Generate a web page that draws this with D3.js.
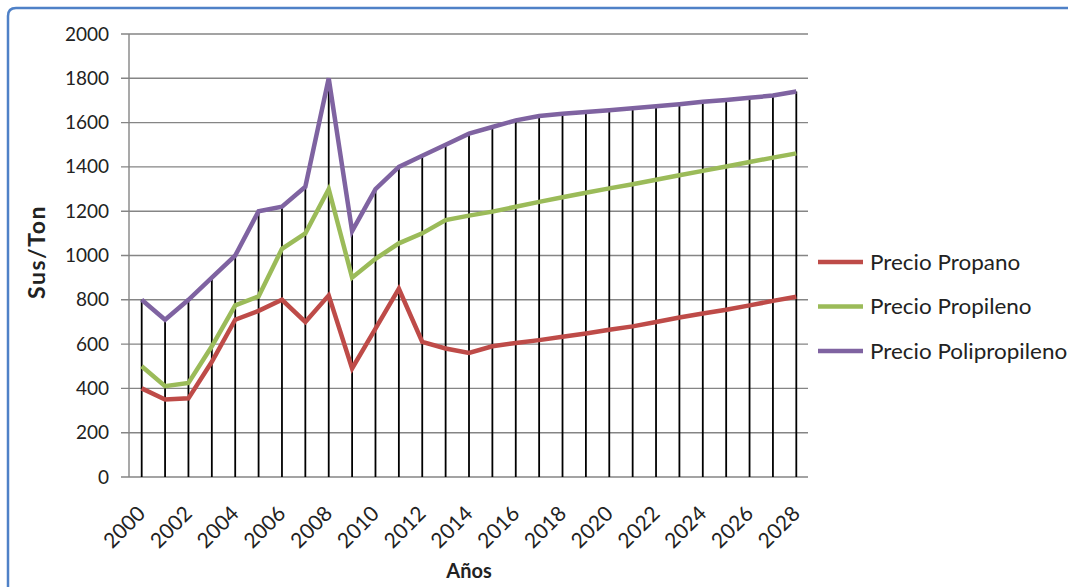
<!DOCTYPE html>
<html>
<head>
<meta charset="utf-8">
<script src="https://cdn.jsdelivr.net/npm/d3@7"></script>
<style>
  html, body { margin: 0; padding: 0; background: #fff; }
  svg { display: block; }
  text { font-family: Lato, "Open Sans", sans-serif; fill: #222; }
</style>
</head>
<body>
<svg id="chart" width="1068" height="587"></svg>
<script>
// Price series (US$/ton), 2000–2028
const years = d3.range(2000, 2029);
const propano = [400, 350, 355, 520, 710, 750, 800, 700, 820, 490,
                 670, 850, 610, 580, 560, 590, 605, 618, 633, 648,
                 665, 680, 700, 720, 738, 755, 775, 795, 814];
const propileno = [500, 410, 425, 590, 775, 815, 1030, 1100, 1300, 900,
                   985, 1055, 1100, 1160, 1180, 1198, 1220, 1242, 1263, 1283,
                   1303, 1322, 1342, 1362, 1382, 1402, 1422, 1442, 1461];
const polipropileno = [800, 710, 800, 900, 1000, 1200, 1220, 1310, 1800, 1110,
                       1300, 1400, 1450, 1500, 1550, 1580, 1610, 1630, 1640, 1648,
                       1656, 1665, 1674, 1683, 1694, 1702, 1712, 1722, 1740];
const yTicks = [0, 200, 400, 600, 800, 1000, 1200, 1400, 1600, 1800, 2000];
const xTickLabels = years.filter(y => y % 2 === 0);

const series = [
  { name: "Precio Propano", values: propano, color: "#be4b48" },
  { name: "Precio Propileno", values: propileno, color: "#9bbb59" },
  { name: "Precio Polipropileno", values: polipropileno, color: "#7f63a1" }
];

const svg = d3.select("#chart");

// Frame around the chart
svg.append("path")
  .attr("d", "M8,600 L8,16 Q8,8 16,8 L1080,8")
  .attr("fill", "none")
  .attr("stroke", "#4f81c7")
  .attr("stroke-width", 2.5);

const x = d3.scaleBand().domain(years).range([130, 808]).paddingInner(0).paddingOuter(0);
const y = d3.scaleLinear().domain([0, 2000]).range([477, 34]);
const cx = d => x(d) + x.bandwidth() / 2;

// Horizontal gridlines + tick marks
svg.append("g").selectAll("line").data(yTicks).join("line")
  .attr("x1", 121).attr("x2", 808)
  .attr("y1", d => y(d)).attr("y2", d => y(d))
  .attr("stroke", "#858585").attr("stroke-width", 1.4);

// Vertical value axis
svg.append("line")
  .attr("x1", 129).attr("x2", 129)
  .attr("y1", y(2000)).attr("y2", y(0))
  .attr("stroke", "#858585").attr("stroke-width", 1.4);

// Y tick labels
const yAxis = d3.axisLeft(y).tickValues(yTicks).tickFormat(d3.format("d")).tickSize(0).tickPadding(0);
const gy = svg.append("g").attr("transform", "translate(109,0)").call(yAxis);
gy.select(".domain").remove();
gy.selectAll("text").attr("font-size", 19).attr("font-family", "Lato, sans-serif").attr("fill", "#222");

// Drop lines from the highest series down to the category axis
const peaks = years.map((yr, i) => ({ yr, v: d3.max(series, s => s.values[i]) }));
svg.append("g").selectAll("line").data(peaks).join("line")
  .attr("x1", d => cx(d.yr)).attr("x2", d => cx(d.yr))
  .attr("y1", d => y(d.v)).attr("y2", y(0))
  .attr("stroke", "#000").attr("stroke-width", 1.8);

// Series lines
const line = d3.line().x((d, i) => cx(years[i])).y(d => y(d));
svg.append("g").selectAll("path").data(series).join("path")
  .attr("d", s => line(s.values))
  .attr("fill", "none")
  .attr("stroke", s => s.color)
  .attr("stroke-width", 4.5)
  .attr("stroke-linejoin", "miter");

// X tick labels, rotated
svg.append("g").selectAll("text").data(xTickLabels).join("text")
  .attr("transform", d => `translate(${cx(d) + 5},${515}) rotate(-45)`)
  .attr("text-anchor", "end")
  .attr("font-size", 21)
  .text(d => d);

// Axis titles
svg.append("text")
  .attr("transform", "translate(45,252) rotate(-90)")
  .attr("text-anchor", "middle")
  .attr("font-size", 23)
  .attr("letter-spacing", 1.5)
  .attr("font-weight", "bold")
  .text("Sus/Ton");

svg.append("text")
  .attr("x", 469).attr("y", 578)
  .attr("text-anchor", "middle")
  .attr("font-size", 20)
  .attr("font-weight", "bold")
  .text("Años");

// Legend
const legend = svg.append("g").selectAll("g").data(series).join("g")
  .attr("transform", (d, i) => `translate(818,${262 + i * 44.5})`);
legend.append("line")
  .attr("x1", 0).attr("x2", 45)
  .attr("stroke", d => d.color).attr("stroke-width", 4.5);
legend.append("text")
  .attr("transform", "translate(52,0) scale(1.07,1)")
  .attr("dy", "0.36em")
  .attr("font-size", 21)
  .text(d => d.name);
</script>
</body>
</html>
